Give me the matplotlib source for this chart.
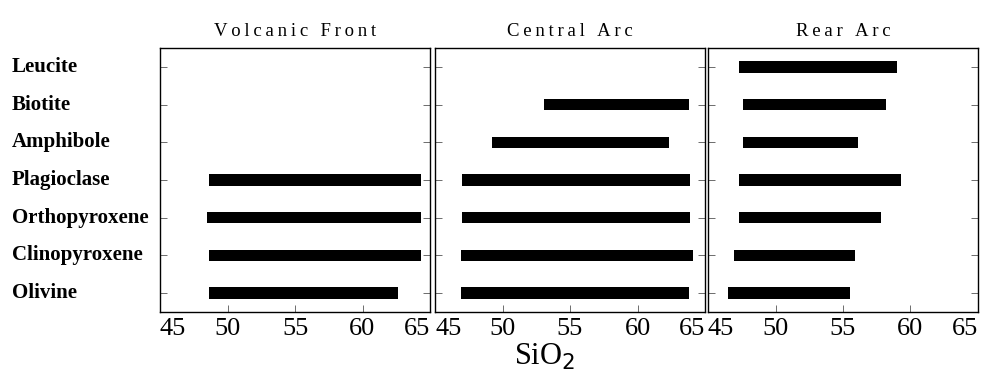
import matplotlib
matplotlib.use("Agg")
import matplotlib.pyplot as plt
from matplotlib.transforms import blended_transform_factory

plt.rcParams["font.family"] = ["Liberation Serif", "DejaVu Serif"]

# Minerals, listed bottom to top
minerals = ["Olivine", "Clinopyroxene", "Orthopyroxene", "Plagioclase",
            "Amphibole", "Biotite", "Leucite"]

panel_titles = ["Volcanic Front", "Central Arc", "Rear Arc"]

# SiO2 range (wt%) over which each mineral occurs; None = not present
front_lo = [48.6, 48.6, 48.5, 48.6, None, None, None]
front_hi = [62.6, 64.3, 64.35, 64.3, None, None, None]

central_lo = [46.9, 46.9, 47.0, 47.0, 49.2, 53.05, None]
central_hi = [63.8, 64.1, 63.9, 63.9, 62.3, 63.8, None]

rear_lo = [46.5, 46.9, 47.3, 47.3, 47.6, 47.6, 47.3]
rear_hi = [55.5, 55.9, 57.8, 59.3, 56.1, 58.2, 59.0]

x_ticks = [45, 50, 55, 60, 65]

ranges = [(front_lo, front_hi), (central_lo, central_hi), (rear_lo, rear_hi)]


def spaced(s, gap="\u2009"):
    return gap.join(s)


fig = plt.figure(figsize=(9.82, 3.83), dpi=100)
W, H = 982, 383
lefts = [160, 435, 708]
width = 270
top, bottom = 48, 312

axes = []
for k, (lo, hi) in enumerate(ranges):
    ax = fig.add_axes([lefts[k] / W, (H - bottom) / H, width / W, (bottom - top) / H])
    axes.append(ax)
    for i, (a, b) in enumerate(zip(lo, hi)):
        if a is None:
            continue
        ax.barh(i, b - a, left=a, height=0.3, color="black")
    ax.set_xlim(45, 65)
    ax.set_ylim(-0.5, len(minerals) - 0.5)
    ax.set_xticks(x_ticks)
    ax.set_xticklabels([str(t) for t in x_ticks], fontsize=19)
    # end labels sit inside the frame so neighbouring panels just touch
    labels = ax.get_xticklabels()
    labels[0].set_ha("left")
    labels[-1].set_ha("right")
    ax.set_yticks(range(len(minerals)))
    ax.set_yticklabels([])
    ax.tick_params(axis="both", direction="in", length=5, width=0.6,
                   color="#555555", left=True, right=True, top=False)
    ax.tick_params(axis="x", pad=4)
    for sp in ax.spines.values():
        sp.set_linewidth(1.0)
        sp.set_color("black")
    ax.set_title(spaced(panel_titles[k]), fontsize=13.5, pad=9)

# mineral names on the far left
trans = blended_transform_factory(fig.transFigure, axes[0].transData)
for i, name in enumerate(minerals):
    axes[0].text(12 / W, i, name, transform=trans,
                 ha="left", va="center", fontsize=15, fontweight="bold")

fig.text(545 / W, (H - 357) / H, "SiO$_2$", ha="center", va="center", fontsize=22)

fig.savefig("out.png", dpi=100)
